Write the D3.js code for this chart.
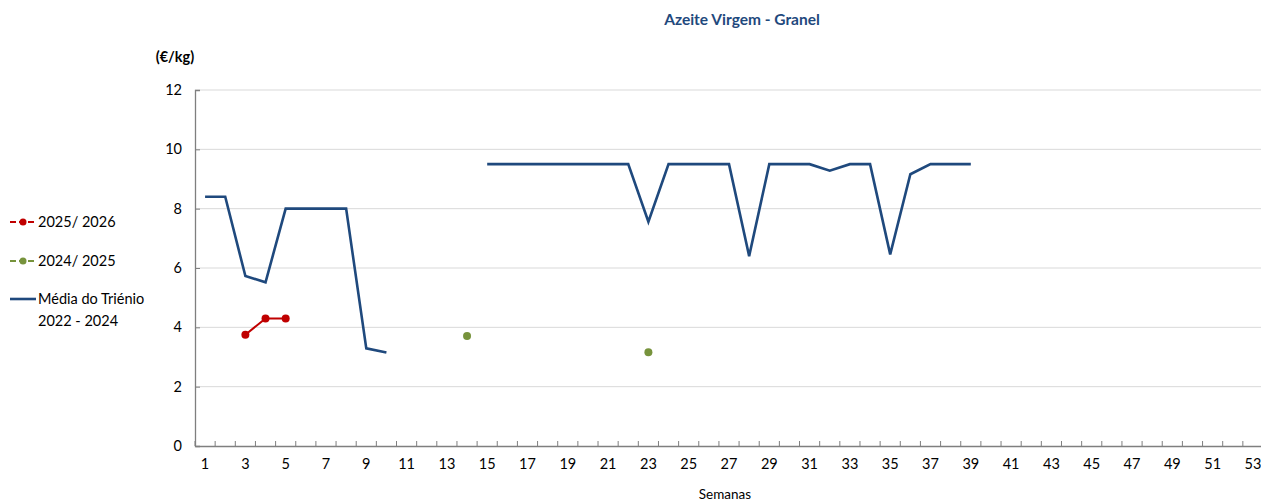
<!DOCTYPE html>
<html><head><meta charset="utf-8">
<script src="https://cdn.jsdelivr.net/npm/d3@7"></script>
<style>body{margin:0;background:#fff;overflow:hidden;} text{font-family:Lato,"Open Sans",sans-serif;}</style>
</head><body>
<svg id="c" width="1261" height="504"></svg>
<script>
const weeks = d3.range(1, 54);
const media = [8.4,8.4,5.73,5.52,8.0,8.0,8.0,8.0,3.29,3.15,null,null,null,null,
  9.5,9.5,9.5,9.5,9.5,9.5,9.5,9.5,7.56,9.5,9.5,9.5,9.5,6.4,9.5,9.5,9.5,9.28,9.5,9.5,6.46,9.16,9.5,9.5,9.5];
const s2526 = [null,null,3.75,4.3,4.3];
const s2425 = [null,null,null,null,null,null,null,null,null,null,null,null,null,3.71,
  null,null,null,null,null,null,null,null,3.16];
const yTicks = [0,2,4,6,8,10,12];
const title = "Azeite Virgem - Granel";
const unitLabel = "(€/kg)";
const xLabel = "Semanas";
const legendItems = [
  {name:"2025/ 2026", color:"#C00000", marker:true},
  {name:"2024/ 2025", color:"#77933C", marker:true},
  {name:["Média do Triénio","2022 - 2024"], color:"#1F497D", marker:false}
];

const svg = d3.select("#c");
const L = 195, R = 1263, T = 90, B = 446;
const x = d3.scaleBand().domain(weeks).range([L, R]);
const y = d3.scaleLinear().domain([0, 12]).range([B, T]);
const cx = w => x(w) + x.bandwidth()/2;

// gridlines
svg.append("g").selectAll("line").data(yTicks.filter(d=>d>0)).join("line")
  .attr("x1", L).attr("x2", R).attr("y1", d=>y(d)).attr("y2", d=>y(d))
  .attr("stroke", "#d9d9d9").attr("stroke-width", 1);

// y axis
const ya = svg.append("g").attr("transform", `translate(${L},0)`)
  .call(d3.axisLeft(y).tickValues(yTicks).tickSize(-5).tickPadding(13));
ya.select(".domain").attr("stroke", "#7f7f7f").attr("stroke-width", 1.3);
ya.selectAll(".tick line").attr("stroke", "#7f7f7f");
ya.selectAll("text").attr("font-size", 14.5).attr("fill", "#000").style("font-family","Lato");

// x axis
const xa = svg.append("g").attr("transform", `translate(0,${B})`)
  .call(d3.axisBottom(x).tickValues(weeks).tickSize(0).tickPadding(13)
  .tickFormat(d => d % 2 === 1 ? d : ""));
xa.select(".domain").attr("stroke", "#7f7f7f").attr("stroke-width", 1.3);
xa.selectAll("text").attr("font-size", 14.5).attr("fill", "#000").style("font-family","Lato");
// x tick marks at band boundaries
svg.append("g").selectAll("line").data(weeks).join("line")
  .attr("x1", d => x(d)).attr("x2", d => x(d))
  .attr("y1", B).attr("y2", B-5).attr("stroke", "#7f7f7f").attr("stroke-width", 1);

// media line
const line = d3.line().defined(d => d.v != null).x(d => cx(d.w)).y(d => y(d.v));
const toPts = arr => arr.map((v,i) => ({w: weeks[i], v}));
svg.append("path").datum(toPts(media)).attr("d", line)
  .attr("fill","none").attr("stroke","#1F497D").attr("stroke-width",2.6).attr("stroke-linejoin","miter");

// series with markers
[[s2425,"#77933C"],[s2526,"#C00000"]].forEach(([arr,col]) => {
  const pts = toPts(arr);
  svg.append("path").datum(pts).attr("d", line)
    .attr("fill","none").attr("stroke",col).attr("stroke-width",2);
  svg.append("g").selectAll("circle").data(pts.filter(d=>d.v!=null)).join("circle")
    .attr("cx", d=>cx(d.w)).attr("cy", d=>y(d.v)).attr("r", 4).attr("fill", col);
});

// titles
svg.append("text").attr("x", 742).attr("y", 25).attr("text-anchor","middle")
  .attr("font-size", 15.5).attr("font-weight","bold").attr("fill","#1F497D").text(title);
svg.append("text").attr("x", 175).attr("y", 62).attr("text-anchor","middle")
  .attr("font-size", 14.5).attr("font-weight","bold").attr("fill","#000").text(unitLabel);
svg.append("text").attr("x", 725).attr("y", 499).attr("text-anchor","middle")
  .attr("font-size", 13.5).attr("fill","#000").text(xLabel);

// legend
const ly = [222, 261, 299];
legendItems.forEach((it, i) => {
  const g = svg.append("g");
  if (it.marker) {
    g.append("line").attr("x1",10).attr("x2",36).attr("y1",ly[i]).attr("y2",ly[i])
      .attr("stroke",it.color).attr("stroke-width",2).attr("stroke-dasharray","6,3");
    g.append("circle").attr("cx",23).attr("cy",ly[i]).attr("r",3.5).attr("fill",it.color);
  } else {
    g.append("line").attr("x1",10).attr("x2",36).attr("y1",ly[i]).attr("y2",ly[i])
      .attr("stroke",it.color).attr("stroke-width",2.6);
  }
  const names = Array.isArray(it.name) ? it.name : [it.name];
  names.forEach((n, j) => {
    g.append("text").attr("x",38).attr("y",ly[i]+5+j*22).attr("font-size",14.5)
      .attr("fill","#000").text(n);
  });
});
</script>
</body></html>
